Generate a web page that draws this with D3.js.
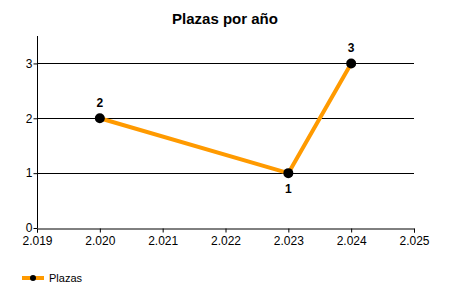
<!DOCTYPE html>
<html>
<head>
<meta charset="utf-8">
<script src="https://cdn.jsdelivr.net/npm/d3@7"></script>
<style>
  body { margin: 0; background: #fff; }
  svg { display: block; font-family: "Liberation Sans", Arial, sans-serif; }
  .title { font-size: 15px; font-weight: bold; }
  .axis text { font-size: 12px; fill: #000; }
  .axis path, .axis line { stroke: #000; }
  .grid line { stroke: #000; }
  .point-label { font-size: 12px; font-weight: bold; }
  .legend text { font-size: 11px; }
</style>
</head>
<body>
<div id="chart"></div>
<script>
var years = [2020, 2023, 2024];
var plazas = [2, 1, 3];
var labelPos = ["above", "below", "above"];
var xTicks = [2019, 2020, 2021, 2022, 2023, 2024, 2025];
var yTicks = [0, 1, 2, 3];

var width = 450, height = 300;
var margin = { top: 36, right: 36, bottom: 72, left: 37 };

var esLocale = d3.formatLocale({ decimal: ",", thousands: ".", grouping: [3], currency: ["", " €"] });
var fmtYear = esLocale.format(",d");

var svg = d3.select("#chart").append("svg")
  .attr("width", width)
  .attr("height", height);

var x = d3.scaleLinear().domain([2019, 2025]).range([margin.left, width - margin.right]);
var y = d3.scaleLinear().domain([0, 3.5]).range([height - margin.bottom, margin.top]);

svg.append("text")
  .attr("class", "title")
  .attr("x", width / 2)
  .attr("y", 24)
  .attr("text-anchor", "middle")
  .text("Plazas por año");

// gridlines
svg.append("g")
  .attr("class", "grid")
  .selectAll("line")
  .data(yTicks.filter(function(d) { return d > 0; }))
  .enter()
  .append("line")
  .attr("x1", x(2019))
  .attr("x2", x(2025))
  .attr("y1", function(d) { return Math.round(y(d)) + 0.5; })
  .attr("y2", function(d) { return Math.round(y(d)) + 0.5; });

var xAxis = svg.append("g")
  .attr("class", "axis")
  .attr("transform", "translate(0," + (Math.round(y(0)) + 0.5) + ")")
  .call(d3.axisBottom(x).tickValues(xTicks).tickFormat(fmtYear).tickSizeOuter(0).tickSize(4).tickPadding(4));

var yAxis = svg.append("g")
  .attr("class", "axis")
  .attr("transform", "translate(" + (Math.round(x(2019)) + 0.5) + ",0)")
  .call(d3.axisLeft(y).tickValues(yTicks).tickFormat(d3.format("d")).tickSizeOuter(0).tickSize(4).tickPadding(1));

yAxis.select(".domain").attr("d", "M0," + y(3.5) + "V" + y(0));

var line = d3.line()
  .x(function(d, i) { return x(years[i]); })
  .y(function(d) { return y(d); });

svg.append("path")
  .datum(plazas)
  .attr("fill", "none")
  .attr("stroke", "#FF9A00")
  .attr("stroke-width", 4)
  .attr("stroke-linejoin", "round")
  .attr("d", line);

svg.append("g")
  .selectAll("circle")
  .data(plazas)
  .enter()
  .append("circle")
  .attr("cx", function(d, i) { return x(years[i]); })
  .attr("cy", function(d) { return y(d); })
  .attr("r", 5)
  .attr("fill", "#000");

svg.append("g")
  .selectAll("text")
  .data(plazas)
  .enter()
  .append("text")
  .attr("class", "point-label")
  .attr("text-anchor", "middle")
  .attr("x", function(d, i) { return x(years[i]); })
  .attr("y", function(d, i) { return labelPos[i] === "above" ? y(d) - 11 : y(d) + 20; })
  .text(function(d) { return d; });

var legend = svg.append("g").attr("class", "legend");
legend.append("line")
  .attr("x1", 22).attr("x2", 44)
  .attr("y1", 278).attr("y2", 278)
  .attr("stroke", "#FF9A00").attr("stroke-width", 4);
legend.append("circle")
  .attr("cx", 33).attr("cy", 278).attr("r", 3).attr("fill", "#000");
legend.append("text")
  .attr("x", 49).attr("y", 282)
  .text("Plazas");
</script>
</body>
</html>
